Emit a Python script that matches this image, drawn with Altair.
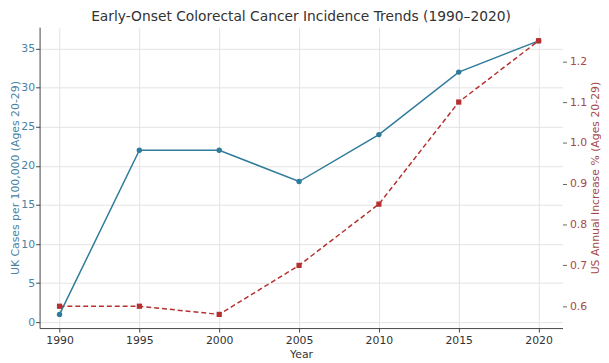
import altair as alt
import pandas as pd

years = [1990, 1995, 2000, 2005, 2010, 2015, 2020]
uk_cases = [1, 22, 22, 18, 24, 32, 36]
us_increase = [0.60, 0.60, 0.58, 0.70, 0.85, 1.10, 1.25]

df = pd.DataFrame({"Year": years, "UK": uk_cases, "US": us_increase})

BLUE = "#2E7B9B"
BLUE_TXT = "#4A82A3"
RED = "#B5302F"
RED_TXT = "#A44A4A"
FONT = "DejaVu Sans"

x = alt.X("Year:Q",
          scale=alt.Scale(domain=[1988.75, 2021.5], nice=False, zero=False),
          axis=alt.Axis(values=years, format="d", title="Year",
                        labelFontSize=11, titleFontSize=11, labelColor="#333",
                        titleColor="#333", titleFontWeight="normal",
                        domainColor="#444", tickColor="#444", tickSize=4,
                        gridColor="#e3e3e3", labelPadding=3, titlePadding=3,
                        labelFlush=False))

base = alt.Chart(df)

uk_line = base.mark_line(color=BLUE, strokeWidth=1.5).encode(
    x=x,
    y=alt.Y("UK:Q",
            scale=alt.Scale(domain=[-0.75, 37.75], nice=False, zero=False),
            axis=alt.Axis(orient="left", values=[0, 5, 10, 15, 20, 25, 30, 35],
                          title="UK Cases per 100,000 (Ages 20-29)",
                          labelFontSize=11, titleFontSize=11,
                          labelColor=BLUE_TXT, titleColor=BLUE_TXT,
                          titleFontWeight="normal", domainColor="#444",
                          tickColor="#444", tickSize=4, labelPadding=1,
                          titlePadding=0, gridColor="#e3e3e3"))
)
uk_pts = base.mark_circle(color=BLUE, size=30, opacity=1).encode(
    x="Year:Q", y="UK:Q")

us_line = base.mark_line(color=RED, strokeWidth=1.5, strokeDash=[5, 3]).encode(
    x="Year:Q",
    y=alt.Y("US:Q",
            scale=alt.Scale(domain=[0.5465, 1.2835], nice=False, zero=False),
            axis=alt.Axis(orient="right",
                          values=[0.6, 0.7, 0.8, 0.9, 1.0, 1.1, 1.2],
                          format=".1f",
                          title="US Annual Increase % (Ages 20-29)",
                          labelFontSize=11, titleFontSize=11,
                          labelColor=RED_TXT, titleColor=RED_TXT,
                          titleFontWeight="normal", domain=False,
                          titleAngle=270, titleBaseline="top",
                          tickColor="#666", tickSize=4, labelPadding=3,
                          titlePadding=3, gridColor="#e3e3e3"))
)
us_pts = base.mark_square(color=RED, size=28, opacity=1).encode(
    x="Year:Q", y="US:Q")

left = alt.layer(uk_line, uk_pts)
right = alt.layer(us_line, us_pts)

chart = alt.layer(left, right).resolve_scale(y="independent").properties(
    width=530, height=305,
    title=alt.TitleParams("Early-Onset Colorectal Cancer Incidence Trends (1990–2020)",
                          fontSize=14, font=FONT, fontWeight="normal",
                          color="#333", offset=3),
    autosize=alt.AutoSizeParams(type="none"),
    padding={"left": 32, "top": 17, "right": 39, "bottom": 33},
).configure(font=FONT).configure_view(stroke=None).configure_axis(
    labelFont=FONT, titleFont=FONT)

chart.save("out.html", embed_options={"renderer": "svg", "actions": False})
